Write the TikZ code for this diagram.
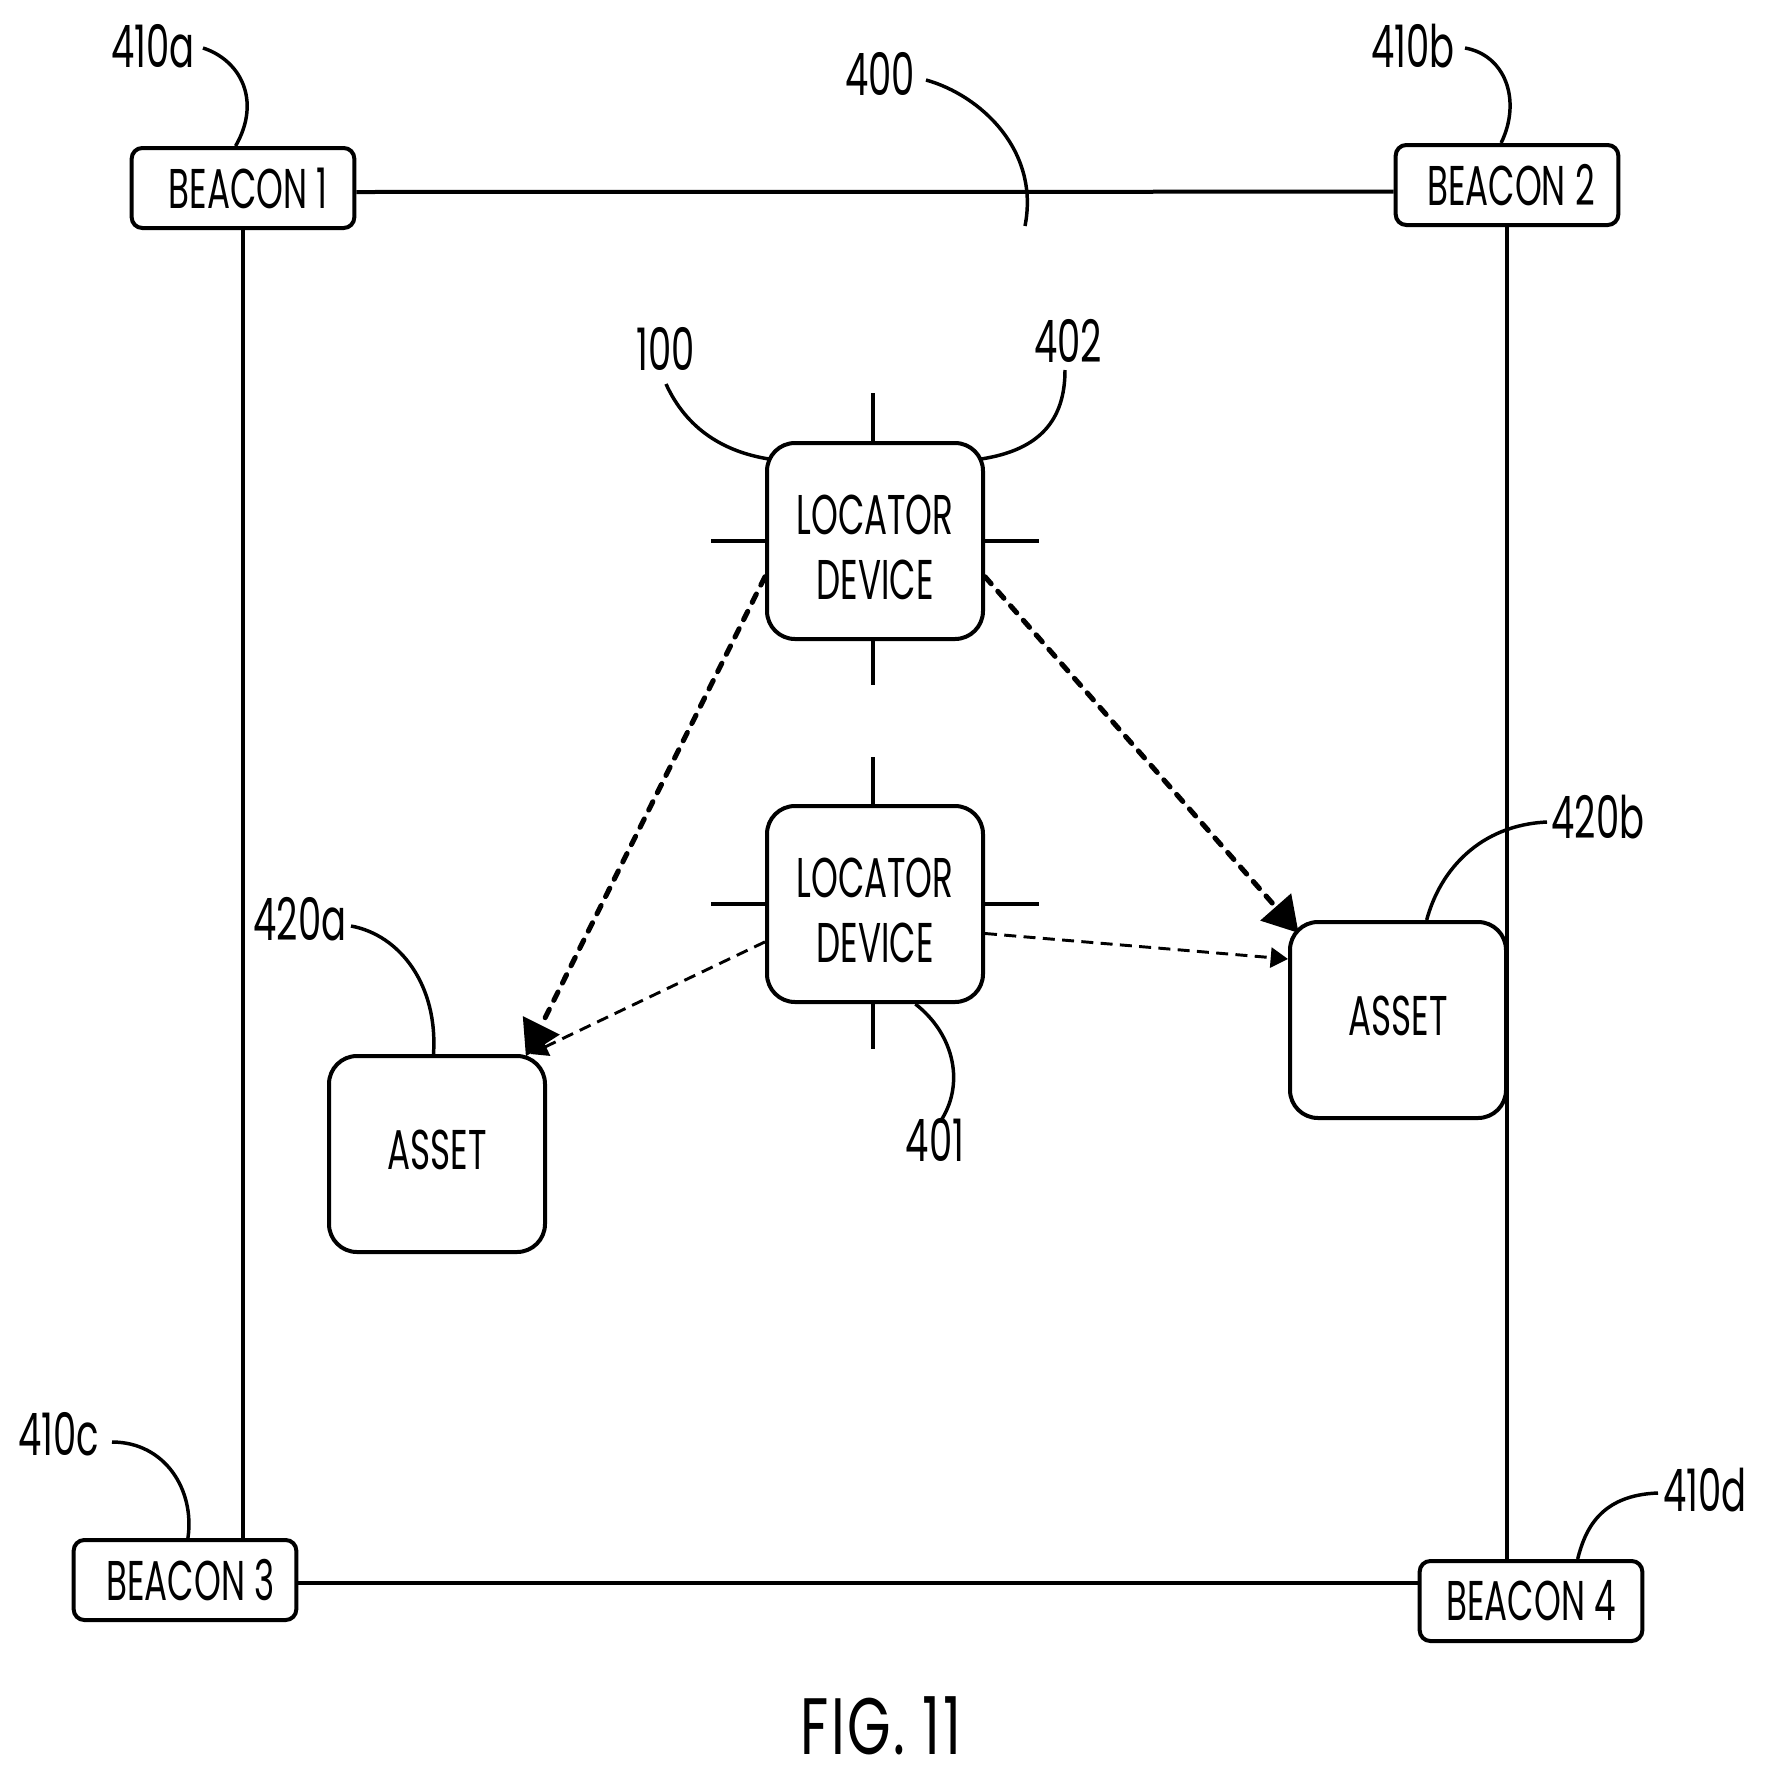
\documentclass[tikz,border=0pt]{standalone}
\usepackage{fontspec}
\usepackage{tikz}
\usetikzlibrary{arrows.meta}
\setmainfont[FakeStretch=0.61]{Poppins}
\newfontfamily\tagfont[FakeStretch=0.63]{Poppins}
\newfontfamily\figfont[FakeStretch=0.7,LetterSpace=3]{Poppins}

\tikzset{
  beacon/.style={draw,line width=3pt,rounded corners=8pt,inner sep=0pt,minimum width=167pt,minimum height=60pt,font=\fontsize{42}{46}\selectfont},
  device/.style={draw,line width=3pt,rounded corners=21pt,inner sep=0pt,minimum width=162pt,minimum height=147pt,align=center,font=\fontsize{42}{49}\selectfont},
  tag/.style={inner sep=0pt,font=\tagfont\fontsize{44}{46}\selectfont},
  wire/.style={line width=3pt},
  lead/.style={line width=2.6pt},
  strong/.style={line width=3.8pt,line cap=round,dash pattern=on 7pt off 7.5pt,-{Triangle[length=26pt,width=30pt]}},
  weak/.style={line width=2.2pt,dash pattern=on 9pt off 5.5pt,-{Triangle[length=13pt,width=15pt]}}
}

\begin{document}
\begin{tikzpicture}[x=0.75pt,y=0.75pt,yscale=-1,xscale=1]
\useasboundingbox (0,0) rectangle (1766,1782);

% Beacons
\node [beacon] (beacon1) at (243,188) {\hspace*{8pt}BEACON 1};
\node [beacon] (beacon2) at (1507,185) {\hspace*{6pt}BEACON 2};
\node [beacon] (beacon3) at (185,1580) {\hspace*{8pt}BEACON 3};
\node [beacon] (beacon4) at (1531,1601) {BEACON 4};

% Devices
\node [device] (locator1) at (875,541) {\rule{0pt}{39pt}LOCATOR\\DEVICE};
\node [device] (locator2) at (875,904) {\rule{0pt}{39pt}LOCATOR\\DEVICE};
\node [device] (asset1) at (437,1154) {ASSET\rule[-7pt]{0pt}{0pt}};
\node [device] (asset2) at (1398,1020) {ASSET\rule[-7pt]{0pt}{0pt}};

% Room outline
\draw [wire] ([yshift=3pt]beacon1.east) -- ([yshift=5pt]beacon2.west);
\draw [wire] (beacon1.south) -- (beacon1.south |- beacon3.north);
\draw [wire] (beacon2.south) -- (beacon2.south |- beacon4.north);
\draw [wire] ([yshift=2.5pt]beacon3.east) -- ([yshift=-13.25pt]beacon4.west);

% Ticks
\coordinate (t1a) at (873,393);
\coordinate (t1b) at (873,685);
\coordinate (t1c) at (711,541);
\coordinate (t1d) at (1039,541);
\coordinate (t2a) at (873,757);
\coordinate (t2b) at (873,1049);
\coordinate (t2c) at (711,904);
\coordinate (t2d) at (1039,904);
\draw [wire] (t1a |- locator1.north) -- (t1a);
\draw [wire] (t1b |- locator1.south) -- (t1b);
\draw [wire] (locator1.west) -- (t1c);
\draw [wire] (locator1.east) -- (t1d);
\draw [wire] (t2a |- locator2.north) -- (t2a);
\draw [wire] (t2b |- locator2.south) -- (t2b);
\draw [wire] (locator2.west) -- (t2c);
\draw [wire] (locator2.east) -- (t2d);

% Signals
\draw [weak] (locator2.199) -- (asset1.47);
\draw [weak] (locator2.-15) -- (asset2.151);
\draw [strong,shorten >=-2pt] (locator1.198) -- (asset1.48);
\draw [strong,shorten >=-12pt] (locator1.-18) -- (asset2.138);

% Text Node
\node [tag] (t410a) at (153,46) {410a};
\node [tag] (t410b) at (1413,46) {410b};
\node [tag] (t410c) at (59,1434) {410c};
\node [tag] (t410d) at (1705,1490) {410d};
\node [tag] (t400) at (880,74) {400};
\node [tag] (t100) at (666,349) {100};
\node [tag] (t402) at (1068,341) {402};
\node [tag] (t401) at (935,1140) {401};
\node [tag] (t420a) at (300,919) {420a};
\node [tag] (t420b) at (1598,817) {420b};
\node [inner sep=0pt,font=\figfont\fontsize{60}{62}\selectfont] (fig) at (881,1726) {FIG. 11};

% Leaders
\coordinate (s410a) at (203,48);
\coordinate (s410b) at (1465,48);
\coordinate (s410c) at (112,1442);
\coordinate (s410d) at (1658,1493);
\coordinate (s400) at (926,80);
\coordinate (e400) at (1025,226);
\coordinate (s100) at (666,384);
\coordinate (e100) at (769,459);
\coordinate (s402) at (1065,370);
\coordinate (e402) at (981,459);
\coordinate (s401) at (940,1122);
\coordinate (s420a) at (351,926);
\coordinate (s420b) at (1547,822);
\draw [lead] (s410a) .. controls (240,60) and (262,100) .. (beacon1.100);
\draw [lead] (s410b) .. controls (1505,55) and (1522,100) .. (beacon2.98);
\draw [lead] (s410c) .. controls (165,1442) and (195,1490) .. (beacon3.86);
\draw [lead] (s410d) .. controls (1600,1495) and (1585,1530) .. (beacon4.42);
\draw [lead] (s400) .. controls (980,95) and (1040,150) .. (e400);
\draw [lead] (s100) .. controls (687,430) and (725,452) .. (e100);
\draw [lead] (s402) .. controls (1065,420) and (1040,450) .. (e402);
\draw [lead] (s401) .. controls (965,1085) and (955,1035) .. (locator2.-68);
\draw [lead] (s420a) .. controls (400,935) and (438,985) .. (asset1.92);
\draw [lead] (s420b) .. controls (1480,825) and (1440,870) .. (asset2.74);
\end{tikzpicture}
\end{document}
